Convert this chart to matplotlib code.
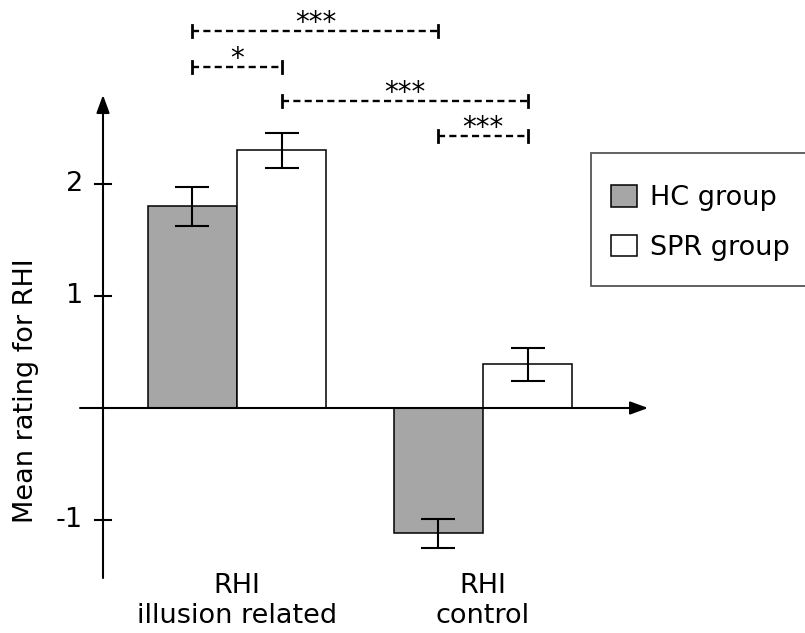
import matplotlib.pyplot as plt
from matplotlib.patches import Rectangle

# data
categories = ["RHI\nillusion related", "RHI\ncontrol"]
groups = ["HC group", "SPR group"]
hc_means = [1.80, -1.12]
hc_errs = [0.175, 0.13]
spr_means = [2.30, 0.39]
spr_errs = [0.155, 0.15]
y_ticks = [2, 1, -1]
y_tick_labels = ["2", "1", "-1"]

# significance brackets: (x start, x end, label), positions = bar centres
bar_w = 0.362
hc_x = [i - bar_w / 2 for i in range(len(categories))]
spr_x = [i + bar_w / 2 for i in range(len(categories))]
brackets = [
    (hc_x[0], hc_x[1], "***"),
    (hc_x[0], spr_x[0], "*"),
    (spr_x[0], spr_x[1], "***"),
    (hc_x[1], spr_x[1], "***"),
]
bracket_y = [3.366, 3.045, 2.741, 2.429]

gray = "#a6a6a6"

fig = plt.figure(figsize=(8.05, 6.33), dpi=100)
ax = fig.add_axes([0, 0, 1, 1])
ax.set_xlim(-0.9634, 2.309)
ax.set_ylim(-2.009, 3.643)
ax.axis("off")

ax.bar(hc_x, hc_means, width=bar_w, color=gray, edgecolor="black", linewidth=1.1,
       label=groups[0], zorder=2)
ax.bar(spr_x, spr_means, width=bar_w, color="white", edgecolor="black", linewidth=1.1,
       label=groups[1], zorder=2)
ax.errorbar(hc_x, hc_means, yerr=hc_errs, fmt="none", ecolor="black",
            elinewidth=1.5, capsize=12.5, capthick=1.5, zorder=3)
ax.errorbar(spr_x, spr_means, yerr=spr_errs, fmt="none", ecolor="black",
            elinewidth=1.5, capsize=12.5, capthick=1.5, zorder=3)

# axes with arrows
arrow = dict(arrowstyle="-|>,head_length=0.6,head_width=0.22", lw=1.5,
             color="black", mutation_scale=18, shrinkA=0, shrinkB=0)
ax.annotate("", xy=(1.671, 0), xytext=(-0.638, 0), arrowprops=arrow, zorder=4)
ax.annotate("", xy=(-0.5447, 2.795), xytext=(-0.5447, -1.518), arrowprops=arrow, zorder=4)

for t, lab in zip(y_ticks, y_tick_labels):
    ax.plot([-0.5772, -0.5122], [t, t], color="black", lw=1.5, zorder=4)
    ax.text(-0.626, t, lab, ha="right", va="center", fontsize=19.5)

ax.text(-0.858, 0.152, "Mean rating for RHI", rotation=90, ha="center",
        va="center", fontsize=19.5)

for i, cat in enumerate(categories):
    ax.text(i, -1.47, cat, ha="center", va="top", fontsize=19.5, linespacing=1.2)

# significance brackets
for (x0, x1, lab), y in zip(brackets, bracket_y):
    ax.plot([x0, x1], [y, y], color="black", lw=1.7, linestyle=(0, (3, 1.8)))
    for xe in (x0, x1):
        ax.plot([xe, xe], [y - 0.055, y + 0.055], color="black", lw=2)
    ax.text((x0 + x1) / 2, y + 0.0, lab, ha="center", va="baseline", fontsize=20)

# legend
ax.add_patch(Rectangle((1.439, 1.089), 1.0, 1.188, facecolor="white",
                       edgecolor="#555555", lw=1.3, clip_on=False, zorder=1))
ax.legend(loc="center left", bbox_to_anchor=(1.52, 1.652),
          bbox_transform=ax.transData, frameon=False, fontsize=19.5,
          handlelength=0.98, handleheight=0.85, handletextpad=0.48,
          labelspacing=0.86, borderpad=0, borderaxespad=0)

fig.savefig("out.png", dpi=100)
